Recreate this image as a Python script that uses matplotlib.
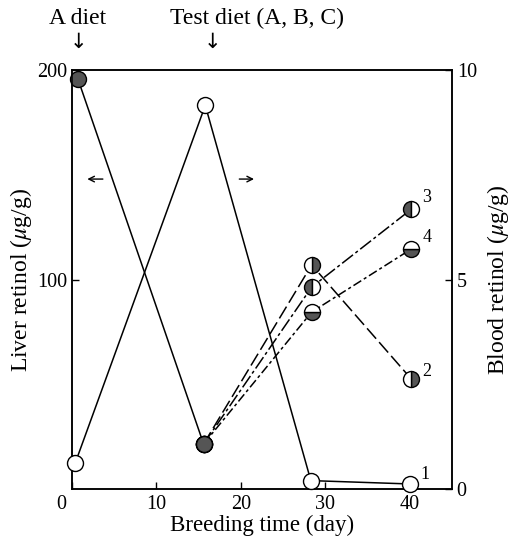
import matplotlib
matplotlib.use("Agg")
import matplotlib.pyplot as plt
import matplotlib.transforms as mtransforms

plt.rcParams['font.family'] = ['Liberation Serif', 'DejaVu Serif']
plt.rcParams['mathtext.fontset'] = 'stix'

# Liver retinol (left axis), filled circles, common A-diet period
liver_days = [0.7, 15.6]
liver_vals = [196, 21.5]

# Blood retinol (right axis), open circles, curve 1
blood_days = [0.4, 15.8, 28.3, 40.0]
blood_vals = [0.62, 9.16, 0.2, 0.12]

# Test diet curves (left axis)
test_days = [15.6, 28.4, 40.2]
curve2 = [21.5, 107, 52.5]
curve3 = [21.5, 96.4, 133.6]
curve4 = [21.5, 84.5, 114.6]

x_ticks = [0, 10, 20, 30, 40]
left_ticks = [100, 200]
right_ticks = [0, 5, 10]

fig = plt.figure(figsize=(5.17, 5.39), dpi=100)
ax = fig.add_axes([0.139, 0.0928, 0.735, 0.777])
ax2 = ax.twinx()

fill = '#555555'
ms = 11.5

ax.plot(liver_days, liver_vals, '-', color='black', lw=1.1, marker='o', ms=ms,
        mfc=fill, mec='black', clip_on=False, zorder=3)

ax.plot(test_days, curve2, color='black', lw=1.1, dashes=(9, 3), marker='o', ms=ms,
        fillstyle='right', mfc=fill, mfcalt='white', mec='black', clip_on=False, zorder=3)
ax.plot(test_days, curve3, color='black', lw=1.1, dashes=(9, 2, 2, 2), marker='o', ms=ms,
        fillstyle='left', mfc=fill, mfcalt='white', mec='black', clip_on=False, zorder=3)
ax.plot(test_days, curve4, color='black', lw=1.1, dashes=(6, 2, 2, 2), marker='o', ms=ms,
        fillstyle='bottom', mfc=fill, mfcalt='white', mec='black', clip_on=False, zorder=3)
# replot liver day-16 point on top
ax.plot(liver_days[1:], liver_vals[1:], 'o', ms=ms, mfc=fill, mec='black', zorder=4)

ax2.plot(blood_days, blood_vals, '-', color='black', lw=1.1, marker='o', ms=ms,
         mfc='white', mec='black', clip_on=False, zorder=3)

ax.set_xlim(0, 45)
ax.set_ylim(0, 200)
ax2.set_ylim(0, 10)

ax.set_xticks(x_ticks)
ax.set_yticks(left_ticks)
ax2.set_yticks(right_ticks)

for a in (ax, ax2):
    a.tick_params(direction='in', length=5, width=1, labelsize=14.5)
    for s in a.spines.values():
        s.set_linewidth(1.1)
ax.tick_params(axis='x', pad=4)

# shift the "0" x tick label slightly left, as in the original
offset = mtransforms.ScaledTranslation(-11 / 100, 0, fig.dpi_scale_trans)
first = ax.get_xticklabels()[0]
first.set_transform(first.get_transform() + offset)

ax.set_xlabel('Breeding time (day)', fontsize=16.5, labelpad=1)
ax.set_ylabel(r'Liver retinol ($\mu$g/g)', fontsize=17, labelpad=2)
ax2.set_ylabel(r'Blood retinol ($\mu$g/g)', fontsize=17, labelpad=6)

# curve numbers
ax.text(41.5, 135, '3', fontsize=13, va='bottom')
ax.text(41.5, 116, '4', fontsize=13, va='bottom')
ax.text(41.5, 52, '2', fontsize=13, va='bottom')
ax2.text(41.3, 0.15, '1', fontsize=13, va='bottom')

# direction arrows
ax.annotate('', xy=(1.5, 148), xytext=(4.0, 148),
            arrowprops=dict(arrowstyle='->', lw=1, color='black'))
ax.annotate('', xy=(21.9, 148), xytext=(19.5, 148),
            arrowprops=dict(arrowstyle='->', lw=1, color='black'))

# top annotations
fig.text(78 / 517, 1 - 18 / 539, 'A diet', fontsize=17, ha='center', va='center')
fig.text(78 / 517, 1 - 42 / 539, '\u2193', fontsize=15, ha='center', va='center',
         family='DejaVu Sans')
fig.text(257 / 517, 1 - 18 / 539, 'Test diet (A, B, C)', fontsize=17, ha='center', va='center')
fig.text(212 / 517, 1 - 42 / 539, '\u2193', fontsize=15, ha='center', va='center',
         family='DejaVu Sans')

fig.savefig('out.png', dpi=100)
